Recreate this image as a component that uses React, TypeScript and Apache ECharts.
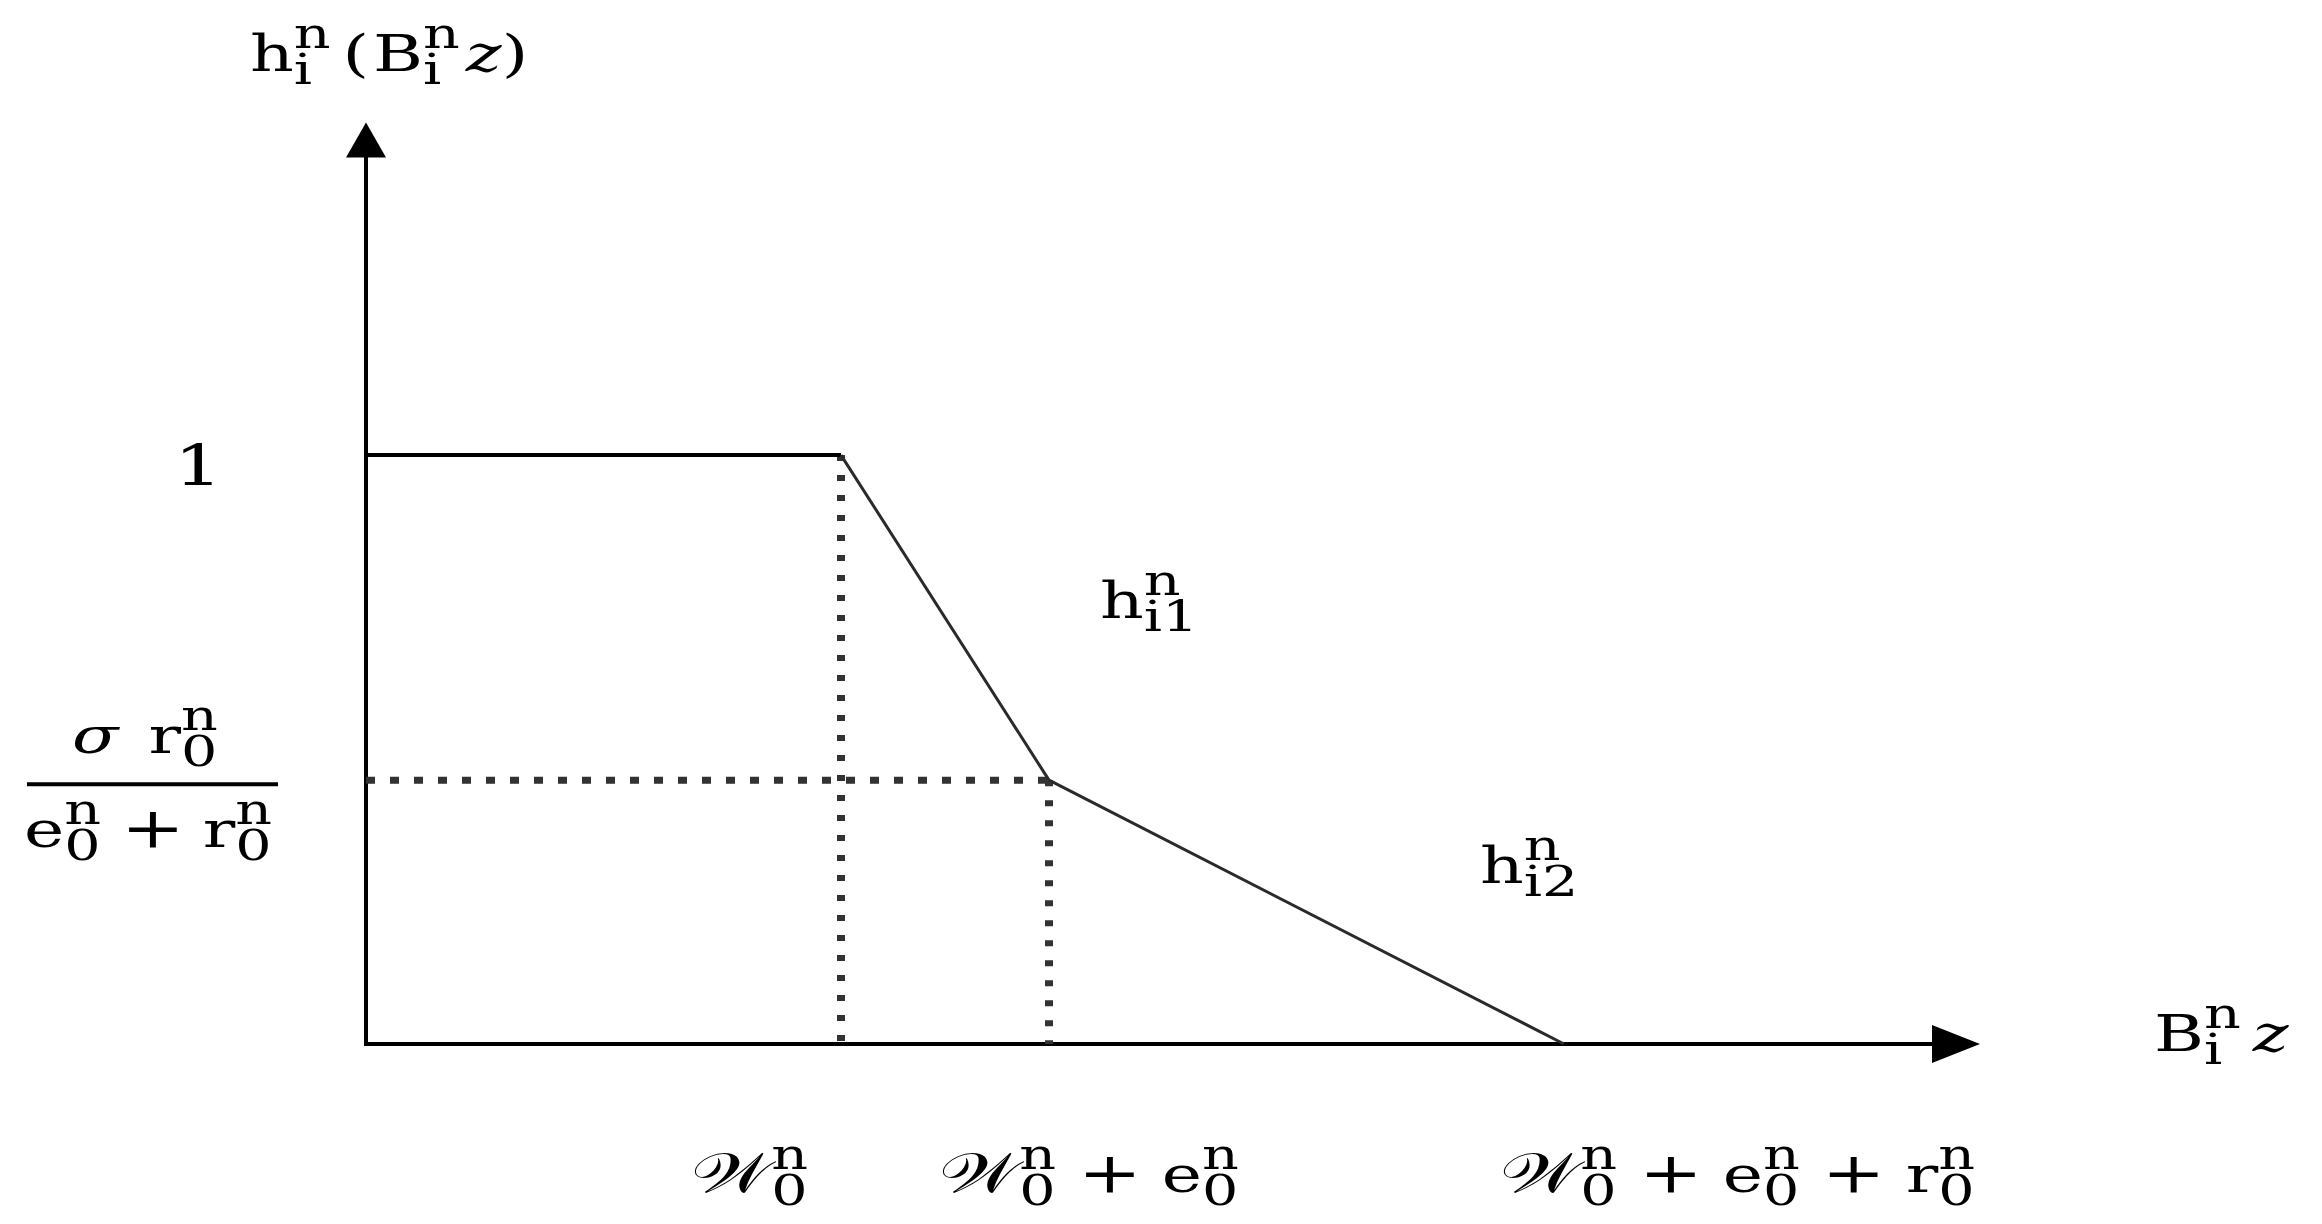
import React, { useEffect, useRef } from 'react';
import * as echarts from 'echarts';

// ---------------- data ----------------
const W0 = 4.75; // W_0^n
const E0 = 2.08; // e_0^n
const R0 = 5.15; // r_0^n
const KNEE = 0.448; // sigma r0 / (e0 + r0)
const TOP = 1;
const X_MAX = 15.9;
const Y_MAX = 1.535;

const flatSeg = [[0, TOP], [W0, TOP]];
const slopeSeg = [[W0, TOP], [W0 + E0, KNEE], [W0 + E0 + R0, 0]];
const dropAtW0 = [[W0, TOP], [W0, 0]];
const dropAtW0E0 = [[W0 + E0, KNEE], [W0 + E0, 0]];
const kneeGuide = [[0, KNEE], [W0 + E0, KNEE]];

type Tok = { t: string; it?: boolean; sup?: string; sub?: string; fs?: number; gb?: number; ga?: number; dy?: number };

const SCRIPT_W = '\u{1D4B2}';
const PLUS: Tok = { t: '+', fs: 56, gb: 22, ga: 20 };
const xTickValues = [W0, W0 + E0, W0 + E0 + R0];
const xTickLabels: Tok[][] = [
  [{ t: SCRIPT_W, fs: 56, sup: 'n', sub: '0' }],
  [{ t: SCRIPT_W, fs: 56, sup: 'n', sub: '0' }, PLUS, { t: 'e', sup: 'n', sub: '0' }],
  [
    { t: SCRIPT_W, fs: 56, sup: 'n', sub: '0' },
    PLUS,
    { t: 'e', sup: 'n', sub: '0' },
    PLUS,
    { t: 'r', sup: 'n', sub: '0' },
  ],
];
const yTickOne: Tok[] = [{ t: '1', fs: 56 }];
const fracNum: Tok[] = [{ t: '\u03C3', it: true }, { t: 'r', sup: 'n', sub: '0', gb: 30 }];
const fracDen: Tok[] = [{ t: 'e', sup: 'n', sub: '0' }, { t: '+', fs: 56, gb: 20, ga: 18 }, { t: 'r', sup: 'n', sub: '0' }];
const yAxisTitle: Tok[] = [
  { t: 'h', sup: 'n', sub: 'i' },
  { t: '(', gb: 12 },
  { t: 'B', sup: 'n', sub: 'i', gb: 4 },
  { t: 'z', it: true, gb: 6 },
  { t: ')' },
];
const xAxisTitle: Tok[] = [{ t: 'B', sup: 'n', sub: 'i' }, { t: 'z', it: true, gb: 12 }];
const seg1Label: Tok[] = [{ t: 'h', sup: 'n', sub: 'i1' }];
const seg2Label: Tok[] = [{ t: 'h', sup: 'n', sub: 'i2' }];

// ---------------- layout helpers ----------------
const FONT = '"DejaVu Serif", "Liberation Serif", serif';
const F = 50;
const F2 = 42;
const SX = 1.36;
const SUP_UP = 23;
const SUB_DN = 13;
const MID = 0.346;

let mctx: CanvasRenderingContext2D | null = null;
function measure(t: string, font: string): number {
  if (!mctx) mctx = document.createElement('canvas').getContext('2d');
  if (!mctx) return t.length * 25;
  mctx.font = font;
  return mctx.measureText(t).width;
}
function fontOf(fs: number, it?: boolean) {
  return `${it ? 'italic ' : ''}${fs}px ${FONT}`;
}
function textEl(t: string, x: number, y: number, font: string) {
  return {
    type: 'text',
    x,
    y,
    scaleX: SX,
    silent: true,
    style: { text: t, font, fill: '#000', textAlign: 'left', textVerticalAlign: 'middle' },
  };
}
function mathText(toks: Tok[], left: number, base: number) {
  const els: any[] = [];
  let x = left;
  toks.forEach((tok) => {
    const fs = tok.fs ?? F;
    x += tok.gb ?? 0;
    const f = fontOf(fs, tok.it);
    els.push(textEl(tok.t, x, base - MID * fs + (tok.dy ?? 0), f));
    x += measure(tok.t, f) * SX;
    if (tok.sup || tok.sub) {
      const f2 = fontOf(F2, false);
      let w = 0;
      if (tok.sup) {
        els.push(textEl(tok.sup, x, base - SUP_UP - MID * F2, f2));
        w = Math.max(w, measure(tok.sup, f2) * SX);
      }
      if (tok.sub) {
        els.push(textEl(tok.sub, x, base + SUB_DN - MID * F2, f2));
        w = Math.max(w, measure(tok.sub, f2) * SX);
      }
      x += w;
    }
    x += tok.ga ?? 0;
  });
  return els;
}

const dotted = (data: number[][], width: number, dash: number[]) => ({
  type: 'line',
  data,
  symbol: 'none',
  silent: true,
  lineStyle: { color: '#333', width, type: dash, cap: 'butt' },
  z: 1,
});

export default function App() {
  const ref = useRef<HTMLDivElement>(null);
  useEffect(() => {
    if (!ref.current) return;
    const chart = echarts.init(ref.current, null, { renderer: 'svg' });
    chart.setOption({
      animation: false,
      backgroundColor: '#fff',
      grid: { left: 366, right: 366, top: 140, bottom: 180 },
      xAxis: {
        type: 'value',
        min: 0,
        max: X_MAX,
        axisLine: { onZero: false, symbol: ['none', 'triangle'], symbolSize: [38, 48], lineStyle: { color: '#000', width: 4, cap: 'square' } },
        axisTick: { show: false },
        axisLabel: { show: false },
        splitLine: { show: false },
      },
      yAxis: {
        type: 'value',
        min: 0,
        max: Y_MAX,
        axisLine: { show: true, onZero: false, symbol: ['none', 'triangle'], symbolSize: [40, 35], lineStyle: { color: '#000', width: 4, cap: 'square' } },
        axisTick: { show: false },
        axisLabel: { show: false },
        splitLine: { show: false },
      },
      series: [
        dotted(dropAtW0, 8, [6, 14]),
        dotted(dropAtW0E0, 8, [6, 14]),
        dotted(kneeGuide, 7, [9, 15]),
        { type: 'line', data: flatSeg, symbol: 'none', silent: true, lineStyle: { color: '#000', width: 4 }, z: 3 },
        { type: 'line', data: slopeSeg, symbol: 'none', silent: true, lineStyle: { color: '#2a2a2a', width: 3 }, z: 3 },
      ],
    });

    const px = (x: number, y: number) => chart.convertToPixel({ gridIndex: 0 }, [x, y]) as number[];
    const axisY = px(0, 0)[1];
    const oneY = px(0, TOP)[1];
    const kneeY = px(0, KNEE)[1];
    const offsets = [-150, -110, -64];
    const graphic: any[] = [];
    xTickValues.forEach((v, i) => {
      graphic.push(...mathText(xTickLabels[i], px(v, 0)[0] + offsets[i], axisY + 148));
    });
    graphic.push(...mathText(yTickOne, 174, oneY + 30));
    graphic.push(...mathText(fracNum, 72, kneeY - 27));
    graphic.push({ type: 'line', silent: true, shape: { x1: 27, y1: kneeY + 4, x2: 278, y2: kneeY + 4 }, style: { stroke: '#000', lineWidth: 4 } });
    graphic.push(...mathText(fracDen, 24, kneeY + 67));
    graphic.push(...mathText(yAxisTitle, 250, 71));
    graphic.push(...mathText(xAxisTitle, 2154, axisY + 7));
    graphic.push(...mathText(seg1Label, 1100, 618));
    graphic.push(...mathText(seg2Label, 1480, 883));
    chart.setOption({ graphic });

    return () => chart.dispose();
  }, []);
  return <div ref={ref} style={{ position: 'absolute', left: 0, top: 0, width: 2322, height: 1224 }} />;
}
